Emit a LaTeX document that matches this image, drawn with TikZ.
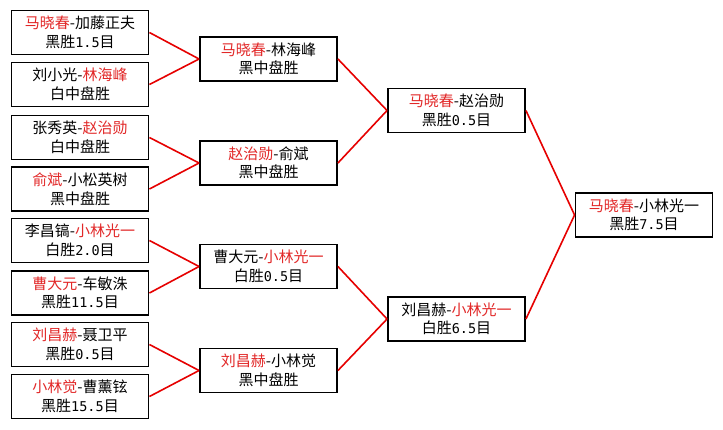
\documentclass[tikz,border=0pt]{standalone}
\usepackage{fontspec}
\setmainfont{Noto Sans CJK SC}
\newfontfamily\numfont{DejaVu Sans Mono}
\newcommand{\nm}[1]{{\numfont\fontsize{13.5}{18}\selectfont #1}}
\definecolor{wr}{RGB}{226,40,40}
\definecolor{ln}{RGB}{230,0,0}
\begin{document}
\begin{tikzpicture}[x=1pt,y=-1pt,
  match/.style={draw=black, line width=1.9pt, fill=white, minimum width=137pt, minimum height=44pt,
    inner sep=0pt, align=center, font=\fontsize{15}{18.5}\selectfont, text=black},
  link/.style={draw=ln, line width=1.6pt}]
\useasboundingbox[fill=white] (0,0) rectangle (723,429);
% column 1
\node[match] (a1) at (80,32.5)  {\textcolor{wr}{马晓春}-加藤正夫\\黑胜\nm{1.5}目};
\node[match] (a2) at (80,84.5)  {刘小光-\textcolor{wr}{林海峰}\\白中盘胜};
\node[match] (a3) at (80,137.5) {张秀英-\textcolor{wr}{赵治勋}\\白中盘胜};
\node[match] (a4) at (80,189)   {\textcolor{wr}{俞斌}-小松英树\\黑中盘胜};
\node[match] (a5) at (80,240.5) {李昌镐-\textcolor{wr}{小林光一}\\白胜\nm{2.0}目};
\node[match] (a6) at (80,293)   {\textcolor{wr}{曹大元}-车敏洙\\黑胜\nm{11.5}目};
\node[match] (a7) at (80,344.5) {\textcolor{wr}{刘昌赫}-聂卫平\\黑胜\nm{0.5}目};
\node[match] (a8) at (80,396.5) {\textcolor{wr}{小林觉}-曹薰铉\\黑胜\nm{15.5}目};
% column 2
\node[match] (b1) at (268.5,59)    {\textcolor{wr}{马晓春}-林海峰\\黑中盘胜};
\node[match] (b2) at (268.5,163)   {\textcolor{wr}{赵治勋}-俞斌\\黑中盘胜};
\node[match] (b3) at (268.5,266.5) {曹大元-\textcolor{wr}{小林光一}\\白胜\nm{0.5}目};
\node[match] (b4) at (268.5,370.5) {\textcolor{wr}{刘昌赫}-小林觉\\黑中盘胜};
% column 3
\node[match] (c1) at (456.5,110.5) {\textcolor{wr}{马晓春}-赵治勋\\黑胜\nm{0.5}目};
\node[match] (c2) at (456.5,319)   {刘昌赫-\textcolor{wr}{小林光一}\\白胜\nm{6.5}目};
% column 4
\node[match] (d1) at (644,215) {\textcolor{wr}{马晓春}-小林光一\\黑胜\nm{7.5}目};
% connectors
\draw[link] (a1.east) -- (b1.west);
\draw[link] (a2.east) -- (b1.west);
\draw[link] (a3.east) -- (b2.west);
\draw[link] (a4.east) -- (b2.west);
\draw[link] (a5.east) -- (b3.west);
\draw[link] (a6.east) -- (b3.west);
\draw[link] (a7.east) -- (b4.west);
\draw[link] (a8.east) -- (b4.west);
\draw[link] (b1.east) -- (c1.west);
\draw[link] (b2.east) -- (c1.west);
\draw[link] (b3.east) -- (c2.west);
\draw[link] (b4.east) -- (c2.west);
\draw[link] (c1.east) -- (d1.west);
\draw[link] (c2.east) -- (d1.west);
\end{tikzpicture}
\end{document}
